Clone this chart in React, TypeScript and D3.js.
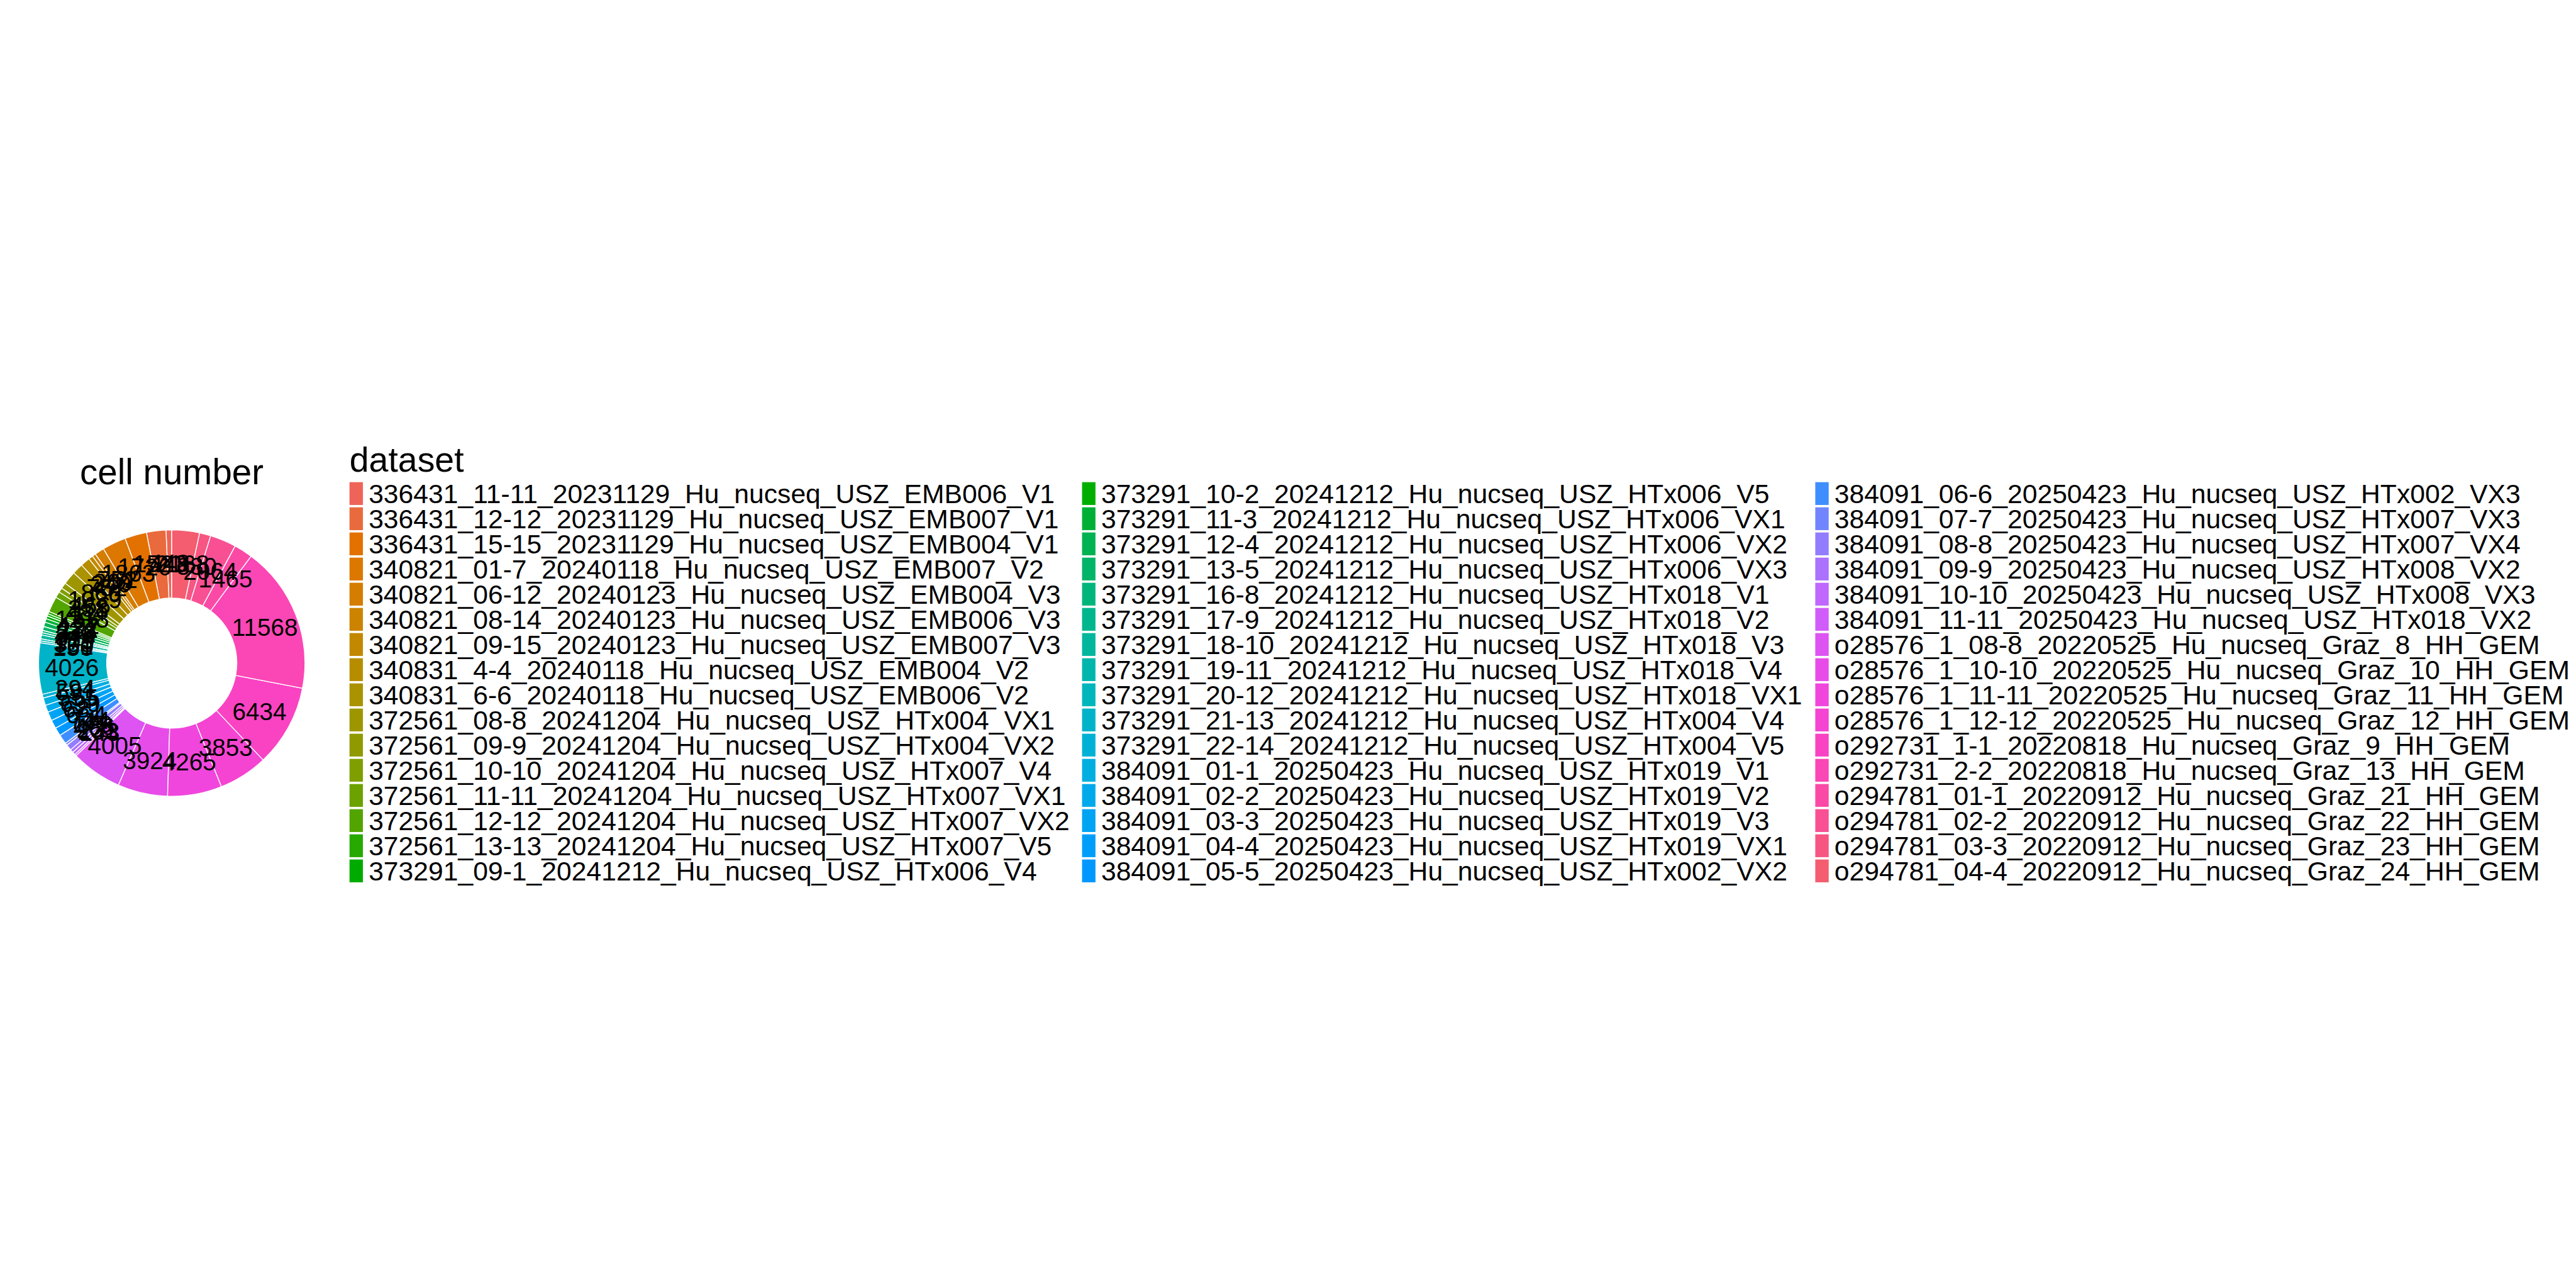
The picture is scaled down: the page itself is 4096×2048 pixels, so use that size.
import * as d3 from "d3";

// legend levels, in factor order
const datasets = [
  "336431_11-11_20231129_Hu_nucseq_USZ_EMB006_V1",
  "336431_12-12_20231129_Hu_nucseq_USZ_EMB007_V1",
  "336431_15-15_20231129_Hu_nucseq_USZ_EMB004_V1",
  "340821_01-7_20240118_Hu_nucseq_USZ_EMB007_V2",
  "340821_06-12_20240123_Hu_nucseq_USZ_EMB004_V3",
  "340821_08-14_20240123_Hu_nucseq_USZ_EMB006_V3",
  "340821_09-15_20240123_Hu_nucseq_USZ_EMB007_V3",
  "340831_4-4_20240118_Hu_nucseq_USZ_EMB004_V2",
  "340831_6-6_20240118_Hu_nucseq_USZ_EMB006_V2",
  "372561_08-8_20241204_Hu_nucseq_USZ_HTx004_VX1",
  "372561_09-9_20241204_Hu_nucseq_USZ_HTx004_VX2",
  "372561_10-10_20241204_Hu_nucseq_USZ_HTx007_V4",
  "372561_11-11_20241204_Hu_nucseq_USZ_HTx007_VX1",
  "372561_12-12_20241204_Hu_nucseq_USZ_HTx007_VX2",
  "372561_13-13_20241204_Hu_nucseq_USZ_HTx007_V5",
  "373291_09-1_20241212_Hu_nucseq_USZ_HTx006_V4",
  "373291_10-2_20241212_Hu_nucseq_USZ_HTx006_V5",
  "373291_11-3_20241212_Hu_nucseq_USZ_HTx006_VX1",
  "373291_12-4_20241212_Hu_nucseq_USZ_HTx006_VX2",
  "373291_13-5_20241212_Hu_nucseq_USZ_HTx006_VX3",
  "373291_16-8_20241212_Hu_nucseq_USZ_HTx018_V1",
  "373291_17-9_20241212_Hu_nucseq_USZ_HTx018_V2",
  "373291_18-10_20241212_Hu_nucseq_USZ_HTx018_V3",
  "373291_19-11_20241212_Hu_nucseq_USZ_HTx018_V4",
  "373291_20-12_20241212_Hu_nucseq_USZ_HTx018_VX1",
  "373291_21-13_20241212_Hu_nucseq_USZ_HTx004_V4",
  "373291_22-14_20241212_Hu_nucseq_USZ_HTx004_V5",
  "384091_01-1_20250423_Hu_nucseq_USZ_HTx019_V1",
  "384091_02-2_20250423_Hu_nucseq_USZ_HTx019_V2",
  "384091_03-3_20250423_Hu_nucseq_USZ_HTx019_V3",
  "384091_04-4_20250423_Hu_nucseq_USZ_HTx019_VX1",
  "384091_05-5_20250423_Hu_nucseq_USZ_HTx002_VX2",
  "384091_06-6_20250423_Hu_nucseq_USZ_HTx002_VX3",
  "384091_07-7_20250423_Hu_nucseq_USZ_HTx007_VX3",
  "384091_08-8_20250423_Hu_nucseq_USZ_HTx007_VX4",
  "384091_09-9_20250423_Hu_nucseq_USZ_HTx008_VX2",
  "384091_10-10_20250423_Hu_nucseq_USZ_HTx008_VX3",
  "384091_11-11_20250423_Hu_nucseq_USZ_HTx018_VX2",
  "o28576_1_08-8_20220525_Hu_nucseq_Graz_8_HH_GEM",
  "o28576_1_10-10_20220525_Hu_nucseq_Graz_10_HH_GEM",
  "o28576_1_11-11_20220525_Hu_nucseq_Graz_11_HH_GEM",
  "o28576_1_12-12_20220525_Hu_nucseq_Graz_12_HH_GEM",
  "o292731_1-1_20220818_Hu_nucseq_Graz_9_HH_GEM",
  "o292731_2-2_20220818_Hu_nucseq_Graz_13_HH_GEM",
  "o294781_01-1_20220912_Hu_nucseq_Graz_21_HH_GEM",
  "o294781_02-2_20220912_Hu_nucseq_Graz_22_HH_GEM",
  "o294781_03-3_20220912_Hu_nucseq_Graz_23_HH_GEM",
  "o294781_04-4_20220912_Hu_nucseq_Graz_24_HH_GEM",
];

// cell number per dataset (same order)
const cellCounts = [
  448, 1523, 1720, 1863, 752, 269, 340, 752, 860, 1039, 466, 358, 484, 1218,
  192, 177, 231, 278, 349, 314, 179, 179, 305, 161, 150,
  4026, 294,
  591, 555, 699, 681, 654, 744, 179, 466, 251, 233, 143,
  4005, 3924, 4265, 3853, 6434, 11568,
  1465, 2064, 880, 2168,
];

const chartTitle = "cell number";
const legendTitle = "dataset";
const legendRows = 16;

const W = 4096;
const H = 2048;
const k = W / 7680;

// polar Luv (as R's hcl()) -> hex
function rHcl(h: number, c: number, l: number) {
  const hr = (h * Math.PI) / 180;
  const U = c * Math.cos(hr);
  const V = c * Math.sin(hr);
  const Xn = 0.95047, Yn = 1.0, Zn = 1.08883;
  const un = (4 * Xn) / (Xn + 15 * Yn + 3 * Zn);
  const vn = (9 * Yn) / (Xn + 15 * Yn + 3 * Zn);
  const Y = l > 8 ? Math.pow((l + 16) / 116, 3) : l / 903.3;
  const u = U / (13 * l) + un;
  const v = V / (13 * l) + vn;
  const X = (Y * 9 * u) / (4 * v);
  const Z = (Y * (12 - 3 * u - 20 * v)) / (4 * v);
  const lin = [
    3.240479 * X - 1.53715 * Y - 0.498535 * Z,
    -0.969256 * X + 1.875992 * Y + 0.041556 * Z,
    0.055648 * X - 0.204043 * Y + 1.057311 * Z,
  ];
  const rgb = lin.map((t) => {
    const g = t <= 0.0031308 ? 12.92 * t : 1.055 * Math.pow(t, 1 / 2.4) - 0.055;
    return Math.round(255 * Math.max(0, Math.min(1, g)));
  });
  return d3.rgb(rgb[0], rgb[1], rgb[2]).formatHex();
}

const n = datasets.length;
const color = d3
  .scaleOrdinal<string, string>()
  .domain(datasets)
  .range(datasets.map((_, i) => rHcl(15 + (360 * i) / n, 110, 60)));

const font = "'Liberation Sans', Arial, Helvetica, sans-serif";

type Row = { name: string; value: number };

export default function App() {
  const cx = 512 * k;
  const cy = 1977 * k;
  const rOut = 397 * k;
  const rIn = 194 * k;
  const rLab = 298 * k;

  const rows: Row[] = datasets.map((d, i) => ({ name: d, value: cellCounts[i] }));

  // first level ends up just left of 12 o'clock, stacking runs counterclockwise
  const pie = d3
    .pie<Row>()
    .sort(null)
    .value((d) => d.value)
    .startAngle(2 * Math.PI)
    .endAngle(0);
  const arcs = pie(rows);

  const arc = d3.arc<d3.PieArcDatum<Row>>().innerRadius(rIn).outerRadius(rOut);
  const labelArc = d3.arc<d3.PieArcDatum<Row>>().innerRadius(rLab).outerRadius(rLab);

  // legend layout
  const colX = [1042 * k, 3226 * k, 5412 * k];
  const rowY = d3
    .scaleLinear()
    .domain([0, 1])
    .range([1437.5 * k, (1437.5 + 75) * k]);
  const keyW = 40 * k;
  const keyH = 68 * k;
  const textSize = 80 * k;

  return (
    <svg
      width={W}
      height={H}
      style={{ position: "absolute", left: 0, top: 0, background: "#fff" }}
      fontFamily={font}
    >
      <rect width={W} height={H} fill="#fff" />
      <text x={cx} y={1444 * k} textAnchor="middle" fontSize={106 * k} fill="#000">
        {chartTitle}
      </text>
      <g transform={`translate(${cx},${cy})`}>
        {arcs.map((a) => (
          <path
            key={a.data.name}
            d={arc(a) || ""}
            fill={color(a.data.name)}
            stroke="#fff"
            strokeWidth={2.6 * k}
          />
        ))}
        {arcs.map((a) => {
          const [x, y] = labelArc.centroid(a);
          return (
            <text
              key={a.data.name}
              x={x}
              y={y}
              dy="0.36em"
              textAnchor="middle"
              fontSize={72.5 * k}
              fill="#000"
            >
              {a.data.value}
            </text>
          );
        })}
      </g>
      <g>
        <text x={colX[0]} y={1407 * k} fontSize={104 * k} fill="#000">
          {legendTitle}
        </text>
        {datasets.map((d, i) => {
          const col = Math.floor(i / legendRows);
          const row = i % legendRows;
          const x = colX[col];
          const y = rowY(row);
          return (
            <g key={d}>
              <rect x={x} y={y} width={keyW} height={keyH} fill={color(d)} />
              <text
                x={x + 57 * k}
                y={y + keyH / 2}
                dy="0.36em"
                fontSize={textSize}
                fill="#000"
              >
                {d}
              </text>
            </g>
          );
        })}
      </g>
    </svg>
  );
}
